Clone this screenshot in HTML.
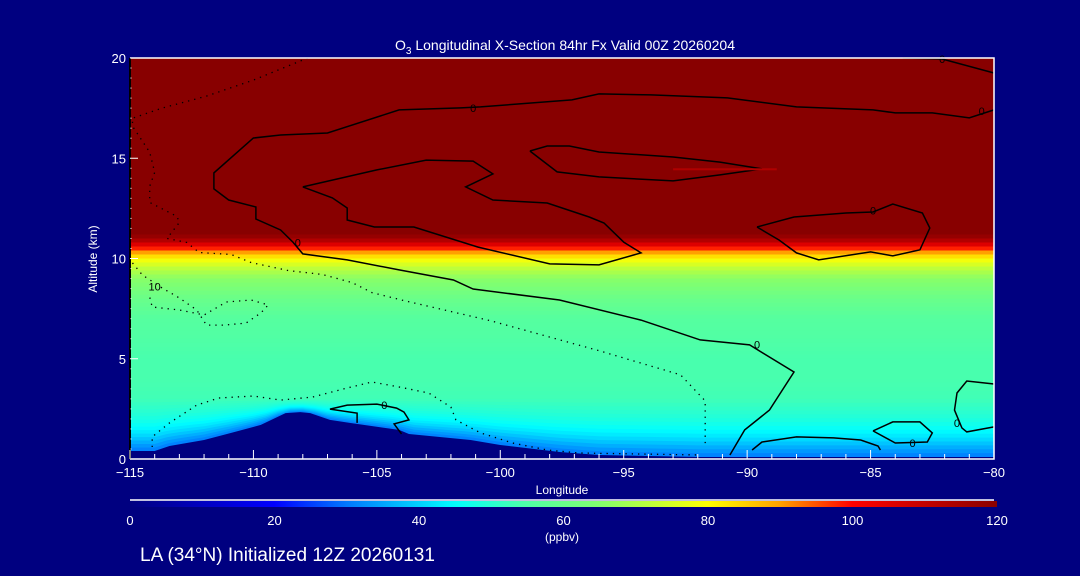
<!DOCTYPE html>
<html><head><meta charset="utf-8">
<style>
html,body{margin:0;padding:0;background:#000080;}
svg{display:block;font-family:"Liberation Sans",sans-serif;}
</style></head>
<body>
<svg id="chart" width="1080" height="576" viewBox="0 0 1080 576">
<rect x="0" y="0" width="1080" height="576" fill="#000080"/>
<g id="field"></g>
<g id="contours"></g>
<g id="axes"></g>
<text x="565" y="50" fill="#fff" font-size="14" text-anchor="middle">O<tspan font-size="10" dy="4">3</tspan><tspan dy="-4"> Longitudinal X-Section 84hr  Fx Valid 00Z 20260204</tspan></text>
<text transform="translate(97,259) rotate(-90)" fill="#fff" font-size="12" text-anchor="middle">Altitude (km)</text>
<text x="562" y="494" fill="#fff" font-size="12" text-anchor="middle">Longitude</text>
<text x="562" y="541" fill="#fff" font-size="12" text-anchor="middle">(ppbv)</text>
<text x="140" y="561" fill="#fff" font-size="19">LA (34°N) Initialized 12Z 20260131</text>
<g id="cbar"></g>
</svg>
<script>
// ---- data ----
const profileAlt = [0,0.5,1,1.5,2,2.5,3,4,5,6,7,8,9,9.5,10,10.3,10.6,10.9,11.2,20];
const profileO3  = [30,36,42,46,49,51,53,54,54,55,56,60,66,72,80,90,102,113,120,120];
const terrainLon = [-115,-114,-113.4,-112,-110.9,-109.7,-108.7,-108.1,-107.7,-106.9,-106.1,-104.1,-103.7,-101.2,-100,-97.6,-96,-91.9,-80];
const terrainAlt = [0.4,0.4,0.65,0.95,1.3,1.7,2.29,2.34,2.29,1.95,1.8,1.45,1.25,0.95,0.7,0.35,0.2,0.1,0.1];
const xTicks = [-115,-110,-105,-100,-95,-90,-85,-80];
const yTicks = [0,5,10,15,20];
const cbarTicks = [0,20,40,60,80,100,120];
const solidA = [[-80,17.41],[-81,17.01],[-82.5,17.26],[-84,17.26],[-84.9,17.41],[-88,17.56],[-90.8,18.01],[-93.9,18.16],[-96,18.21],[-97.1,17.91],[-100.8,17.56],[-101.6,17.51],[-104.1,17.41],[-107,16.26],[-108.9,16.16],[-110,16.01],[-111.6,14.27],[-111.6,13.47],[-111,12.92],[-109.9,12.57],[-109.9,11.97],[-108.9,11.42],[-108.4,10.82],[-108,10.23],[-106.2,9.93],[-104.1,9.43],[-101.9,8.93],[-101.1,8.48],[-97.6,7.93],[-94.3,6.93],[-91.9,5.94],[-89.9,5.69],[-88.1,4.34],[-89.1,2.44],[-90.1,1.45],[-90.7,0.2]];
const solidB = [[-108,13.57],[-105,14.42],[-103,14.91],[-101.1,14.86],[-100.3,14.22],[-101.4,13.57],[-100.3,12.92],[-98.1,12.77],[-96.4,12.07],[-95.8,11.77],[-95,10.82],[-94.3,10.28],[-96,9.68],[-98,9.73],[-100.9,10.57],[-103.5,11.57],[-105.1,11.57],[-106.2,11.92],[-106.2,12.52],[-106.8,13.02],[-108,13.57]];
const solidC = [[-98.8,15.36],[-98.1,15.61],[-97.2,15.61],[-96,15.31],[-93,15.06],[-91.1,14.81],[-89.4,14.47],[-91.1,14.17],[-93,13.87],[-96,14.07],[-97.7,14.32],[-98.8,15.36]];
const solidD = [[-89.6,11.57],[-88.1,12.07],[-86,12.27],[-84.9,12.32],[-84.1,12.72],[-82.9,12.27],[-82.6,11.52],[-83,10.43],[-84.1,10.13],[-85,10.33],[-87.1,9.93],[-88,10.28],[-88.7,10.92],[-89.6,11.57]];
const solidTop = [[-83.7,20],[-82.1,19.95],[-80,19.25]];
const solidLow1 = [[-104,1.25],[-104.3,1.75],[-103.7,1.95],[-103.9,2.34],[-104.2,2.54],[-105,2.74],[-106.2,2.69],[-106.9,2.49],[-105.8,2.29],[-105.8,1.8]];
const solidE = [[-89.8,0.45],[-89.4,0.85],[-88,1.1],[-86.5,1.05],[-85.4,0.95],[-84.7,0.65],[-84.6,0.45]];
const solidF = [[-84.9,1.4],[-84.1,1.85],[-83,1.85],[-82.5,1.3],[-82.7,0.85],[-84,0.8],[-84.9,1.4]];
const solidG = [[-80,3.74],[-81.1,3.89],[-81.5,3.29],[-81.6,2.44],[-81.3,1.55],[-81.1,1.35],[-80,1.6]];
const dotted1 = [[-107.8,20],[-110,18.9],[-111.9,18.1],[-113.7,17.5],[-114.9,17],[-114.9,16.6],[-114.2,15.3],[-114,14.3],[-114.2,13.6],[-114.2,12.8],[-113.1,12.1],[-113,11.8],[-113.5,11],[-112.7,10.8],[-112.2,10.3],[-110.9,10.2],[-110.1,9.8],[-108.6,9.4],[-107.2,9.2],[-106,8.8],[-105.2,8.3],[-103.9,7.9],[-100.4,6.9],[-96,5.4],[-92.7,4.2],[-91.7,2.9],[-91.7,0.7]];
const dotted2 = [[-114.9,9.78],[-114.5,9.18],[-113.7,8.53],[-113,8.03],[-112.3,7.43],[-111.9,6.68],[-111.2,6.68],[-110.3,6.78],[-109.7,7.28],[-109.4,7.68],[-110.1,7.93],[-111.1,7.83],[-112,7.18],[-113,7.43],[-114.1,7.58],[-114.2,8.08]];
const dotted3 = [[-114.1,0.6],[-114.1,1.1],[-113.4,1.8],[-112.3,2.69],[-111.4,3.04],[-110,3.14],[-108.9,2.94],[-107.6,3.09],[-106.2,3.54],[-105.2,3.84],[-104.1,3.59],[-102.9,3.29],[-102,2.59],[-101.8,1.95],[-100.8,1.3],[-99.5,0.8],[-98.1,0.45],[-96.8,0.3],[-91.9,0.2]];
const contourLabels = [[-101.1,17.51,"0"],[-80.5,17.35,"0"],[-82.1,19.95,"0"],[-108.2,10.8,"0"],[-89.6,5.7,"0"],[-84.9,12.4,"0"],[-104.7,2.7,"0"],[-83.3,0.8,"0"],[-81.5,1.8,"0"],[-114,8.6,"10"]];

// ---- scales ----
const X0=130,X1=994,Y0=459,Y1=58;
const xs = lon => X0+(lon+115)/35*(X1-X0);
const ys = alt => Y0-alt/20*(Y0-Y1);
const NS="http://www.w3.org/2000/svg";
const cmapV=[0,20,30,45,55,65,80,90,100,120];
const cmapC=[[0,0,128],[0,0,255],[0,120,255],[0,255,255],[80,255,165],[130,255,110],[255,255,0],[255,160,0],[255,0,0],[136,0,0]];
function col(v){
  for(let i=1;i<cmapV.length;i++){ if(v<=cmapV[i]){const t=(v-cmapV[i-1])/(cmapV[i]-cmapV[i-1]);const a=cmapC[i-1],b=cmapC[i];return `rgb(${Math.round(a[0]+t*(b[0]-a[0]))},${Math.round(a[1]+t*(b[1]-a[1]))},${Math.round(a[2]+t*(b[2]-a[2]))})`;} }
  return "rgb(136,0,0)";
}
function interp(xa,ya,x){ if(x<=xa[0])return ya[0]; for(let i=1;i<xa.length;i++){ if(x<=xa[i]){const t=(x-xa[i-1])/(xa[i]-xa[i-1]);return ya[i-1]+t*(ya[i]-ya[i-1]);} } return ya[ya.length-1]; }
function el(tag,attrs,parent){const e=document.createElementNS(NS,tag);for(const k in attrs)e.setAttribute(k,attrs[k]);parent.appendChild(e);return e;}

// ---- field bands ----
const field=document.getElementById('field');
const lons=[];for(let l=-115;l<=-80.001;l+=0.5)lons.push(l);lons.push(-80);
function bandY(a,lon){const t=interp(terrainLon,terrainAlt,lon);return a>=3?a:t+a*(3-t)/3;}
const step=0.2;
for(let a=20;a>0.0001;a-=step){
  const v=interp(profileAlt,profileO3,a-step/2);
  let pts=lons.map(l=>xs(l)+","+ys(bandY(a,l)));
  pts.push(X1+","+Y0,X0+","+Y0);
  const p=el('polygon',{points:pts.join(" "),fill:col(v)},field);
  
  
}
// terrain
{
  let pts=terrainLon.map((l,i)=>xs(l)+","+ys(terrainAlt[i]));
  pts.push(X1+","+Y0,X0+","+Y0);
  const p=el('polygon',{points:pts.join(" "),fill:"#000080"},field);
  
  
}
// ---- contours ----
const cg=document.getElementById('contours');
function line(arr,dotted,name){
  const d="M"+arr.map(p=>xs(p[0]).toFixed(1)+","+ys(p[1]).toFixed(1)).join(" L");
  const a={d:d,fill:"none",stroke:"#000","stroke-width":dotted?1.3:1.5};
  if(dotted)a["stroke-dasharray"]="1.3 5";
  const e=el('path',a,cg);
  
  
}
[[solidA,'contour-0-main'],[solidB,'contour-0-inner'],[solidC,'contour-0-upper'],[solidD,'contour-0-right'],[solidTop,'contour-0-top'],[solidLow1,'contour-0-low-west'],[solidE,'contour-0-low-a'],[solidF,'contour-0-low-b'],[solidG,'contour-0-low-c']].forEach(c=>line(c[0],false,c[1]));
[[dotted1,'contour-10-west'],[dotted2,'contour-10-loop'],[dotted3,'contour-10-low']].forEach(c=>line(c[0],true,c[1]));
contourLabels.forEach(c=>{
  const t=el('text',{x:xs(c[0]),y:ys(c[1])+4,"font-size":11,fill:"#000","text-anchor":"middle"},cg);
  t.textContent=c[2];
  
  
});
// streak
{const r=el('rect',{x:xs(-93),y:ys(14.45)-1,width:xs(-88.8)-xs(-93),height:2,fill:"#b00000"},cg);
}

// ---- axes ----
const ax=document.getElementById('axes');
const fr=el('path',{d:`M${X0},${Y1} L${X1},${Y1} L${X1},${Y0} L${X0},${Y0}`,fill:"none",stroke:"#fff","stroke-width":1.5},ax);

const yl=el('line',{x1:X0,y1:Y1,x2:X0,y2:Y0,stroke:"#000","stroke-width":2},ax);

for(let l=-115;l<=-80;l++){
  const maj=(l%5===0);
  const t=el('line',{x1:xs(l),y1:Y0,x2:xs(l),y2:Y0-(maj?9:5),stroke:"#fff","stroke-width":1},ax);
  
}
xTicks.forEach(v=>{
  const t=el('text',{x:xs(v),y:Y0+18,fill:"#fff","font-size":13,"text-anchor":"middle"},ax);
  t.textContent=v<0?"\u2212"+(-v):String(v);
  
});
for(let a=0;a<=20;a+=0.5){
  const t=el('line',{x1:X0,y1:ys(a),x2:X0+(a%5===0?8:2),y2:ys(a),stroke:"#fff","stroke-width":1,opacity:a%5===0?1:0.5},ax);
  
}
yTicks.forEach(v=>{
  const t=el('text',{x:X0-4,y:ys(v)+5,fill:"#fff","font-size":13,"text-anchor":"end"},ax);
  t.textContent=String(v);
  
});
// ---- colorbar ----
const cb=document.getElementById('cbar');
const CB0=130,CB1=997;
const cbx=v=>CB0+v/120*(CB1-CB0);
{const d=el('defs',{},cb);const g=el('linearGradient',{id:"cg",x1:0,x2:1,y1:0,y2:0},d);
for(let v=0;v<=120;v+=2)el('stop',{offset:(v/120),"stop-color":col(v)},g);}
const wl=el('line',{x1:CB0,y1:500,x2:CB1-3,y2:500,stroke:"#fff","stroke-width":1.5},cb);

const cr=el('rect',{x:CB0,y:501,width:CB1-CB0,height:6,fill:"url(#cg)"},cb);

cbarTicks.forEach(v=>{
  const t=el('text',{x:cbx(v),y:525,fill:"#fff","font-size":13,"text-anchor":"middle"},cb);
  t.textContent=String(v);
  
});
</script>
</body></html>
